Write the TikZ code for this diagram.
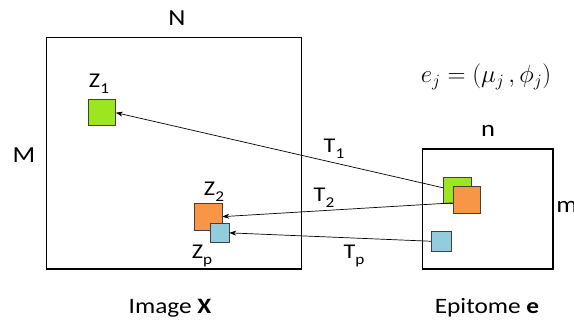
\documentclass[tikz,border=0pt]{standalone}
\usepackage{fontspec}
\setmainfont[FakeStretch=1.15]{Carlito}
\usetikzlibrary{arrows.meta}
\definecolor{lgreen}{RGB}{155,230,30}
\definecolor{lorange}{RGB}{247,150,70}
\definecolor{lblue}{RGB}{146,205,222}
\newcommand\mysub[1]{\raisebox{-0.28em}{\fontsize{15}{15}\selectfont #1}}
\tikzset{
  bigbox/.style={draw=black, line width=1.3pt, anchor=north west, inner sep=0pt},
  patch/.style={draw=black!75, line width=0.8pt, anchor=north west, inner sep=0pt},
  lbl/.style={font=\fontsize{23}{26}\selectfont, inner sep=0pt},
  slbl/.style={font=\fontsize{21}{24}\selectfont, inner sep=0pt},
  conn/.style={line width=0.7pt, -{Stealth[length=7pt,width=5pt]}}
}
\begin{document}
\begin{tikzpicture}[x=1pt,y=-1pt]
\useasboundingbox (0,0) rectangle (574,329);
% boxes
\node[bigbox, minimum width=254.5pt, minimum height=231.3pt] (img) at (46,37) {};
\node[bigbox, minimum width=130.7pt, minimum height=120pt] (epi) at (421.7,148.3) {};
% patches in image
\node[patch, fill=lgreen, minimum width=27pt, minimum height=26.5pt] (z1) at (88,99) {};
\node[patch, fill=lorange, minimum width=28pt, minimum height=27.5pt] (z2) at (193.5,202.5) {};
\node[patch, fill=lblue, minimum width=19pt, minimum height=19.5pt] (zp) at (209.5,222.7) {};
% patches in epitome
\node[patch, fill=lgreen, minimum width=27.5pt, minimum height=26.5pt] (eg) at (443.3,176.7) {};
\node[patch, fill=lorange, minimum width=27.5pt, minimum height=27pt] (eo) at (452.5,186) {};
\node[patch, fill=lblue, minimum width=19.7pt, minimum height=20.3pt] (eb) at (431,230.7) {};
% connectors
\draw[conn] ([yshift=2.5pt]eg.west) -- (z1.east);
\draw[conn] ([yshift=-3pt]eo.west) -- (z2.east);
\draw[conn] (eb.west) -- (zp.east);
% labels
\node[lbl] (N) at (177,18) {N};
\node[lbl] (M) at (24,155) {M};
\node[lbl] (n) at (488,131) {n};
\node[lbl] (m) at (567,207) {m};
\node[slbl] (lz1) at (99,84) {Z\mysub{1}};
\node[slbl] (lz2) at (214,192) {Z\mysub{2}};
\node[slbl] (lzp) at (202,256) {Z\mysub{p}};
\node[slbl] (t1) at (334,149) {T\mysub{1}};
\node[slbl] (t2) at (324,198) {T\mysub{2}};
\node[slbl] (tp) at (354,256) {T\mysub{p}};
\node[font=\fontsize{26}{30}\selectfont, inner sep=0pt] (eq) at (486,77) {$e_j = (\mu_j\,,\phi_j)$};
\node[font=\fontsize{22}{26}\selectfont, inner sep=0pt] (cap1) at (170,308) {Image \textbf{X}};
\node[font=\fontsize{22}{26}\selectfont, inner sep=0pt] (cap2) at (487,308) {Epitome \textbf{e}};
\end{tikzpicture}
\end{document}
